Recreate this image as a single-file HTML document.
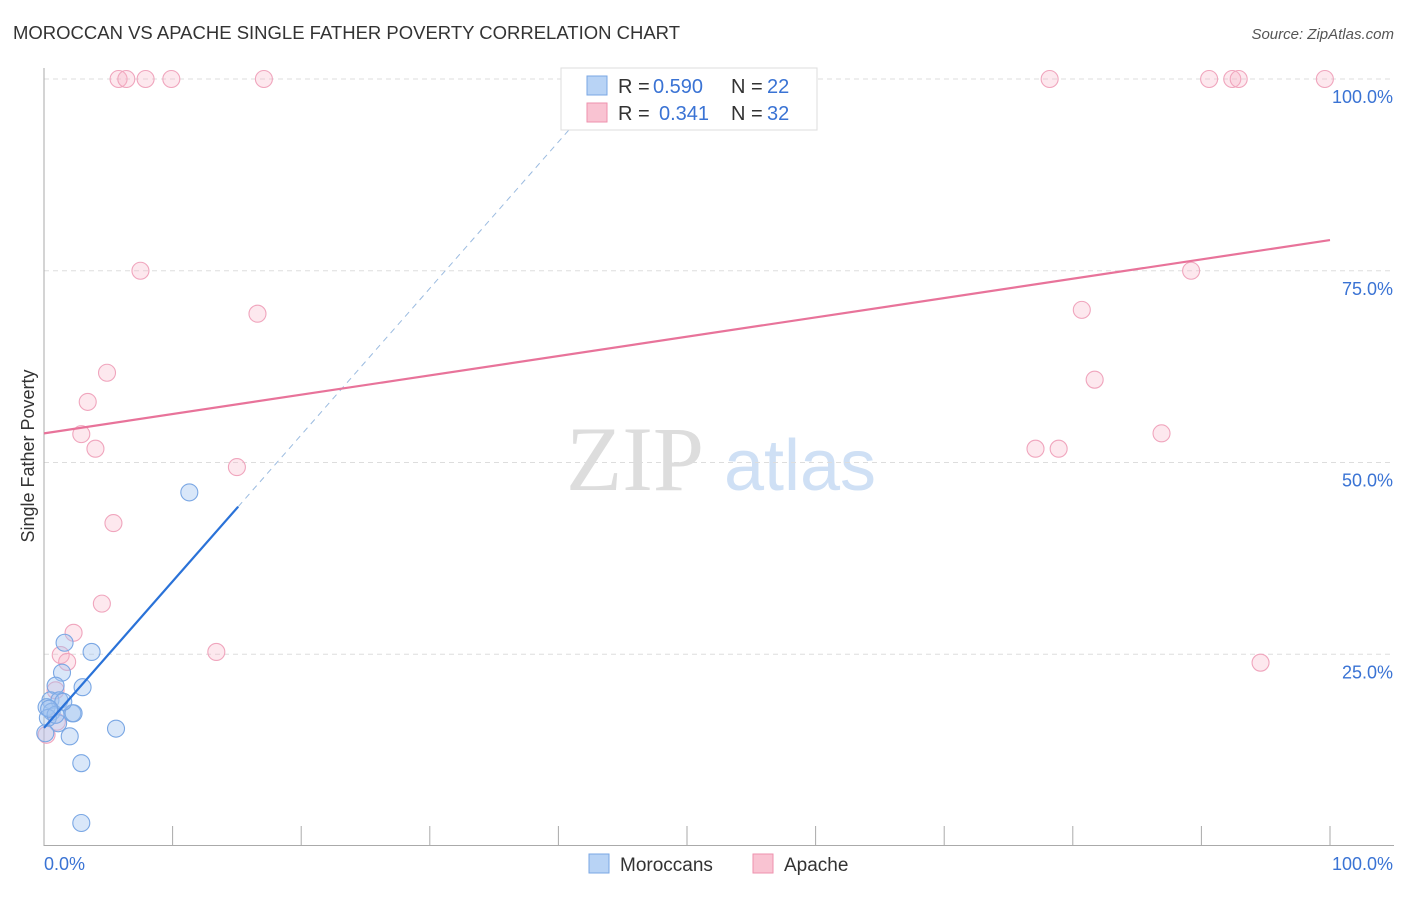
<!DOCTYPE html>
<html><head><meta charset="utf-8"><style>
body{margin:0;background:#fff;font-family:"Liberation Sans",sans-serif}
</style></head><body>
<svg id="c" width="1406" height="892" xmlns="http://www.w3.org/2000/svg" font-family="Liberation Sans, sans-serif">
<text x="13" y="39" font-size="18" fill="#333" textLength="667" lengthAdjust="spacingAndGlyphs">MOROCCAN VS APACHE SINGLE FATHER POVERTY CORRELATION CHART</text>
<text x="1394" y="39" font-size="15" fill="#555" font-style="italic" text-anchor="end">Source: ZipAtlas.com</text>
<text x="34" y="456" font-size="18" fill="#333" text-anchor="middle" transform="rotate(-90 34 456)">Single Father Poverty</text>
<g>
<text x="635" y="490" font-size="92" fill="#ddd" font-family="Liberation Serif, serif" text-anchor="middle">ZIP</text>
<text x="800" y="490" font-size="72" fill="#cfe0f5" text-anchor="middle">atlas</text>
</g>
<g id="grid"></g>
<g id="axes"></g>
<g id="pts"></g>
<g id="lines"></g>
<g>
<rect x="561" y="68" width="256" height="62" fill="#fff" stroke="#ddd"/>
<rect x="587" y="76" width="20" height="19" fill="#b8d3f5" stroke="#7aa7e4"/>
<rect x="587" y="103" width="20" height="19" fill="#f9c3d2" stroke="#ee91ae"/>
<text x="618" y="93" font-size="20" fill="#333">R =</text>
<text x="653" y="93" font-size="20" fill="#3a73d4">0.590</text>
<text x="731" y="93" font-size="20" fill="#333">N =</text>
<text x="767" y="93" font-size="20" fill="#3a73d4">22</text>
<text x="618" y="120" font-size="20" fill="#333">R =</text>
<text x="659" y="120" font-size="20" fill="#3a73d4">0.341</text>
<text x="731" y="120" font-size="20" fill="#333">N =</text>
<text x="767" y="120" font-size="20" fill="#3a73d4">32</text>
</g>
<g>
<rect x="589" y="854" width="20" height="19" fill="#b8d3f5" stroke="#7aa7e4"/>
<text x="620" y="871" font-size="19" fill="#333">Moroccans</text>
<rect x="753" y="854" width="20" height="19" fill="#f9c3d2" stroke="#ee91ae"/>
<text x="784" y="871" font-size="19" fill="#333">Apache</text>
</g>
</svg>
<script>
const yTicks=[100,75,50,25];
const yTickLabels=["100.0%","75.0%","50.0%","25.0%"];
const moroccanX=[11.3,3.7,1.6,1.4,3.0,0.9,0.5,1.2,0.2,0.6,2.2,2.3,1.1,2.0,5.6,2.9,2.9,0.3,0.9,0.1,1.5,0.4];
const moroccanY=[46.1,25.3,26.5,22.6,20.7,20.9,19.0,19.0,18.1,17.5,17.3,17.3,16.0,14.3,15.3,10.8,3.0,16.7,17.1,14.7,18.8,17.9];
const apacheX=[5.8,6.4,7.9,9.9,17.1,78.2,90.6,92.4,92.9,99.6,7.5,16.6,4.9,3.4,2.9,4.0,15.0,5.4,4.5,2.3,13.4,1.3,1.8,0.9,1.0,0.2,80.7,81.7,86.9,77.1,78.9,89.2,94.6];
const apacheY=[100,100,100,100,100,100,100,100,100,100,75,69.4,61.7,57.9,53.7,51.8,49.4,42.1,31.6,27.8,25.3,24.9,24.0,20.3,16.2,14.5,69.9,60.8,53.8,51.8,51.8,75,23.9];
const moroccanLine=[15.4,1.91,15.1];
const apacheLine=[53.8,79.0];
const NS="http://www.w3.org/2000/svg";
const X=v=>44+v*12.86, Y=v=>846-v*7.67;
function mk(t,a,p){const e=document.createElementNS(NS,t);for(const k in a)e.setAttribute(k,a[k]);p.appendChild(e);return e;}
const g=document.getElementById('grid');
yTicks.forEach((t,i)=>{
 const l=mk('line',{x1:44,x2:1394,y1:Y(t),y2:Y(t),stroke:'#ddd','stroke-dasharray':'5,4'},g);
 
 
 const tx=mk('text',{x:1393,y:Y(t)+24,'font-size':18,fill:'#3a73d4','text-anchor':'end'},g);
 tx.textContent=yTickLabels[i];
 
 
});
const ax=document.getElementById('axes');
mk('line',{x1:44,x2:44,y1:68,y2:846,stroke:'#aaa'},ax);
mk('line',{x1:44,x2:1394,y1:845.5,y2:845.5,stroke:'#aaa'},ax);
for(let k=1;k<=10;k++){mk('line',{x1:X(k*10),x2:X(k*10),y1:826,y2:846,stroke:'#aaa'},ax);}
let t=mk('text',{x:44,y:870,'font-size':18,fill:'#3a73d4'},ax);t.textContent="0.0%";


t=mk('text',{x:1393,y:870,'font-size':18,fill:'#3a73d4','text-anchor':'end'},ax);t.textContent="100.0%";


const pg=document.getElementById('pts');
apacheX.forEach((x,i)=>{const c=mk('circle',{cx:X(x),cy:Y(apacheY[i]),r:8.5,fill:'rgba(249,180,200,0.3)',stroke:'#f0a5bd','stroke-width':1.1},pg);
 
 });
moroccanX.forEach((x,i)=>{const c=mk('circle',{cx:X(x),cy:Y(moroccanY[i]),r:8.5,fill:'rgba(160,195,240,0.4)',stroke:'#7aa7e4','stroke-width':1.1},pg);
 
 });
const lg=document.getElementById('lines');
const [b0,b1,bEnd]=moroccanLine;
let l=mk('line',{x1:X(0),y1:Y(b0),x2:X(bEnd),y2:Y(b0+b1*bEnd),stroke:'#2a72d8','stroke-width':2.2},lg);


const xe=(100-b0)/b1;
l=mk('line',{x1:X(bEnd),y1:Y(b0+b1*bEnd),x2:X(xe),y2:Y(100),stroke:'#9bbbe0','stroke-width':1,'stroke-dasharray':'6,5'},lg);


l=mk('line',{x1:X(0),y1:Y(apacheLine[0]),x2:X(100),y2:Y(apacheLine[1]),stroke:'#e8739a','stroke-width':2.2},lg);


</script>
</body></html>
